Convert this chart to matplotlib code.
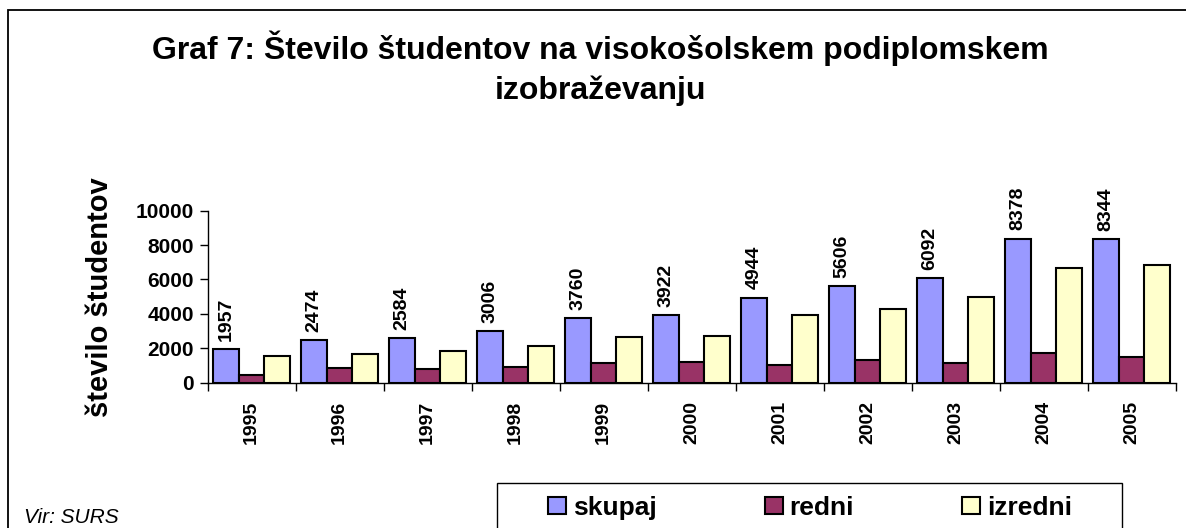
import matplotlib.pyplot as plt
import numpy as np
from matplotlib.patches import Rectangle

# podatki (odčitani z grafa)
leta = ["1995", "1996", "1997", "1998", "1999", "2000",
        "2001", "2002", "2003", "2004", "2005"]
skupaj = [1957, 2474, 2584, 3006, 3760, 3922, 4944, 5606, 6092, 8378, 8344]
redni = [440, 830, 780, 910, 1150, 1200, 1030, 1340, 1130, 1740, 1510]
izredni = [1540, 1670, 1840, 2130, 2670, 2730, 3920, 4300, 5000, 6650, 6840]

plt.rcParams["font.family"] = ["Liberation Sans", "DejaVu Sans"]
plt.rcParams["font.weight"] = "bold"

W, H = 1186, 528
fig = plt.figure(figsize=(W / 100, H / 100), dpi=100)
ax = fig.add_axes([207.7 / W, 1 - 382.7 / H, 968 / W, 172 / H])

x = np.arange(len(leta))
w = 0.29
ax.bar(x - w, skupaj, w, color="#9999FF", edgecolor="black", linewidth=1.5, label="skupaj")
ax.bar(x, redni, w, color="#993366", edgecolor="black", linewidth=1.5, label="redni")
ax.bar(x + w, izredni, w, color="#FFFFCC", edgecolor="black", linewidth=1.5, label="izredni")

# vrednosti nad stolpci
for xi, v in zip(x - w, skupaj):
    ax.annotate(str(v), (xi, v), xytext=(0, 6), textcoords="offset points",
                rotation=90, ha="center", va="bottom", fontsize=14,
                fontweight="bold", annotation_clip=False)

ax.set_xlim(-0.5, len(leta) - 0.5)
ax.set_ylim(0, 10000)
ax.set_yticks([0, 2000, 4000, 6000, 8000, 10000])
ax.tick_params(axis="y", labelsize=15, length=6, width=1, pad=4)
ax.set_xticks(x)
ax.set_xticklabels(leta, rotation=90, fontsize=14, fontweight="bold")
ax.set_xticks(np.arange(-0.5, len(leta)), minor=True)
ax.tick_params(axis="x", which="major", length=0, pad=13)
ax.tick_params(axis="x", which="minor", length=5.5, width=1)
for lab in ax.get_yticklabels():
    lab.set_fontweight("bold")

ax.spines["top"].set_visible(False)
ax.spines["right"].set_visible(False)
ax.spines["left"].set_linewidth(1)
ax.spines["bottom"].set_linewidth(1)

ax.set_ylabel("število študentov", fontsize=21, fontweight="bold")
ax.yaxis.set_label_coords(-0.097, 0.5)

fig.text(0.506, 1 - 31 / H,
         "Graf 7: Število študentov na visokošolskem podiplomskem\nizobraževanju",
         ha="center", va="top", fontsize=23, fontweight="bold", linespacing=1.38)

fig.text(24 / W, 1 - 523 / H, "Vir: SURS", fontsize=15, style="italic",
         fontweight="normal", va="baseline")

# okvir legende (sega čez spodnji rob)
fig.patches.append(Rectangle((497 / W, -0.05), (1122 - 497) / W, 0.05 + 1 - 483 / H,
                             transform=fig.transFigure, fill=False,
                             edgecolor="black", linewidth=1))
leg = fig.legend(loc="center", bbox_to_anchor=(810 / W, 1 - 508 / H),
                 bbox_transform=fig.transFigure, ncol=3, frameon=False,
                 fontsize=19, handlelength=0.68, handleheight=0.64,
                 handletextpad=0.27, columnspacing=4.1, borderpad=0)

# okvir okoli celotne slike
fig.patches.append(Rectangle((7.5 / W, -0.05), 1.1, 0.05 + 1 - 10 / H,
                             transform=fig.transFigure, fill=False,
                             edgecolor="black", linewidth=1.3))

plt.savefig("out.png", dpi=100)
